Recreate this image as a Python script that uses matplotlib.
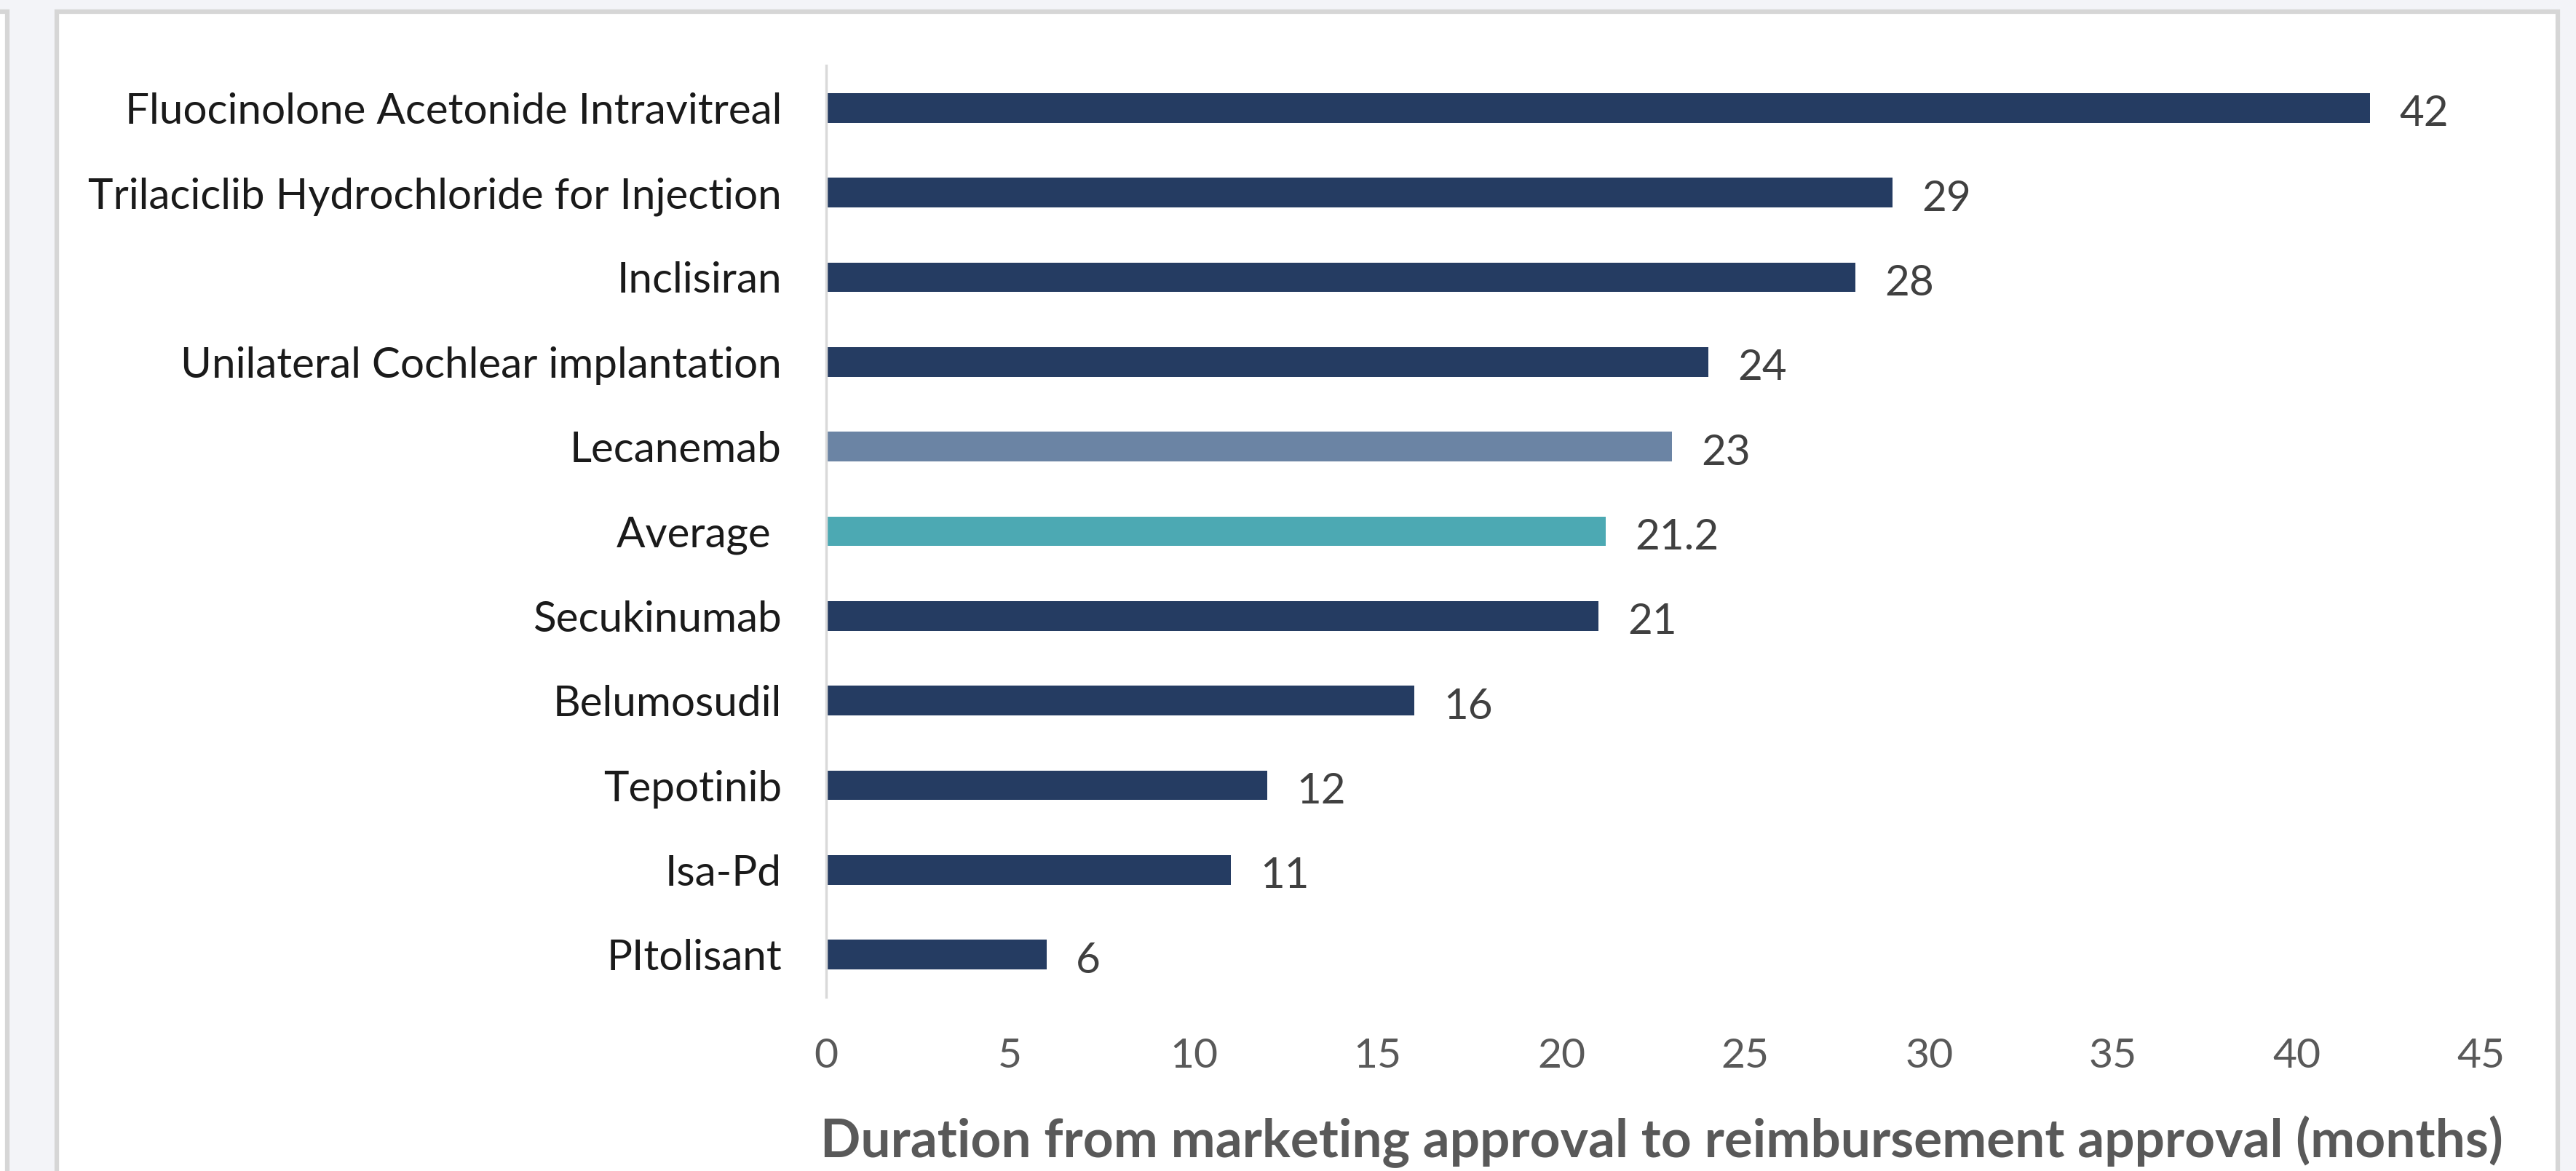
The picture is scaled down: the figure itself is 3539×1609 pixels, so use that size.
import matplotlib

matplotlib.use("Agg")
import matplotlib.pyplot as plt
from matplotlib.patches import Rectangle

plt.rcParams["font.family"] = ["Lato", "DejaVu Sans"]

# top to bottom, as in the chart
drugs = [
    "Fluocinolone Acetonide Intravitreal",
    "Trilaciclib Hydrochloride for Injection",
    "Inclisiran",
    "Unilateral Cochlear implantation",
    "Lecanemab",
    "Average ",
    "Secukinumab",
    "Belumosudil",
    "Tepotinib",
    "Isa-Pd",
    "PItolisant",
]
months = [42, 29, 28, 24, 23, 21.2, 21, 16, 12, 11, 6]
value_text = ["42", "29", "28", "24", "23", "21.2", "21", "16", "12", "11", "6"]
x_ticks = [0, 5, 10, 15, 20, 25, 30, 35, 40, 45]
x_title = "Duration from marketing approval to reimbursement approval (months)"

NAVY = "#253c62"
HIGHLIGHT = {"Lecanemab": "#6b84a4", "Average ": "#4ca9b3"}

W, H = 3539, 1609
fig = plt.figure(figsize=(W / 100, H / 100), dpi=100, facecolor="#f3f4f8")

# card background with thin grey frame, plus the edge of a neighbouring card
fig.patches.append(Rectangle((78 / W, -0.1), (3514 - 78) / W, 1.1 - 16 / H,
                             transform=fig.transFigure, facecolor="white",
                             edgecolor="#d6d6d6", linewidth=4.5, zorder=-10))
fig.patches.append(Rectangle((-0.01, -0.1), 0.01 + 10 / W, 1.1 - 16 / H,
                             transform=fig.transFigure, facecolor="white",
                             edgecolor="#d6d6d6", linewidth=4.5, zorder=-10))

ax = fig.add_axes([1135 / W, 1 - 1370 / H, (3408 - 1135) / W, (1370 - 90) / H])
ax.set_facecolor("none")

pos = list(range(len(drugs)))[::-1]
colors = [HIGHLIGHT.get(d, NAVY) for d in drugs]
ax.barh(pos, months, height=0.35, color=colors, zorder=2)

for y, v, t in zip(pos, months, value_text):
    ax.annotate(t, (v, y), xytext=(29, -18), textcoords="offset points",
                ha="left", va="baseline", fontsize=42, color="#404040")

ax.set_xlim(0, 45)
ax.set_ylim(-0.5, len(drugs) - 0.5)
ax.set_xticks(x_ticks)
ax.set_yticks(pos)
ax.set_yticklabels(drugs)
ax.tick_params(axis="x", length=0, pad=40, labelsize=41, labelcolor="#595959")
ax.tick_params(axis="y", length=0, pad=44, labelsize=42, labelcolor="#1a1a1a")

for side in ["top", "right", "bottom"]:
    ax.spines[side].set_visible(False)
ax.spines["left"].set_color("#d9d9d9")
ax.spines["left"].set_linewidth(2.5)

ax.set_xlabel(x_title, fontsize=52.5, fontweight="bold", color="#595959")
ax.xaxis.set_label_coords(0.505, -0.127)

fig.savefig("out.png", dpi=100, facecolor=fig.get_facecolor())
